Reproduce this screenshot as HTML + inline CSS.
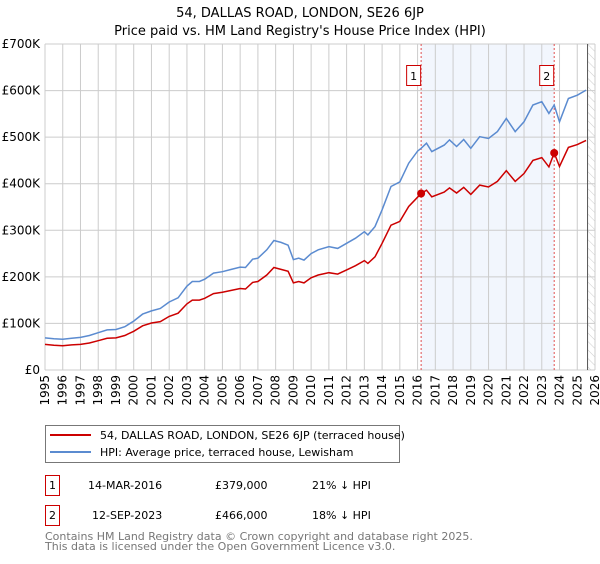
<!DOCTYPE html>
<html><head><meta charset="utf-8"><style>
body{margin:0;background:#fff;font-family:"DejaVu Sans","Liberation Sans",sans-serif;}
svg text{font-family:"DejaVu Sans","Liberation Sans",sans-serif;}
</style></head><body>
<svg id="chart" width="600" height="560" xmlns="http://www.w3.org/2000/svg">
<defs><pattern id="hatch" width="6" height="6" patternUnits="userSpaceOnUse" patternTransform="rotate(-45)"><line x1="0" y1="0" x2="0" y2="6" stroke="#ccc" stroke-width="1"/></pattern></defs>
<text x="300" y="17" text-anchor="middle" font-size="13">54, DALLAS ROAD, LONDON, SE26 6JP</text>
<text x="300" y="35" text-anchor="middle" font-size="13">Price paid vs. HM Land Registry's House Price Index (HPI)</text>
<g id="plot"></g>
<g>
<rect x="45.5" y="425.5" width="354" height="37" fill="#fff" stroke="#777"/>
<line x1="50" y1="435" x2="91" y2="435" stroke="#cc0000" stroke-width="2"/>
<text x="100" y="439" font-size="11">54, DALLAS ROAD, LONDON, SE26 6JP (terraced house)</text>
<line x1="50" y1="452" x2="91" y2="452" stroke="#5b8bd0" stroke-width="2"/>
<text x="100" y="456" font-size="11">HPI: Average price, terraced house, Lewisham</text>
</g>
<g font-size="11">
<rect x="45.5" y="475.5" width="14" height="20" fill="#fff" stroke="#cc0000"/>
<text x="52.5" y="489" text-anchor="middle">1</text>
<text x="88" y="489">14-MAR-2016</text><text x="215" y="489">£379,000</text><text x="312" y="489">21% ↓ HPI</text>
<rect x="45.5" y="505.5" width="14" height="20" fill="#fff" stroke="#cc0000"/>
<text x="52.5" y="519" text-anchor="middle">2</text>
<text x="92" y="519">12-SEP-2023</text><text x="215" y="519">£466,000</text><text x="312" y="519">18% ↓ HPI</text>
</g>
<text x="45" y="540" font-size="11" fill="#777">Contains HM Land Registry data © Crown copyright and database right 2025.</text>
<text x="45" y="550" font-size="11" fill="#777">This data is licensed under the Open Government Licence v3.0.</text>
</svg>
<script>
const years=[1995,1995.5,1996,1996.5,1997,1997.5,1998,1998.5,1999,1999.5,2000,2000.5,2001,2001.5,2002,2002.5,2003,2003.3,2003.7,2004,2004.5,2005,2005.5,2006,2006.3,2006.7,2007,2007.5,2007.9,2008.3,2008.7,2009,2009.3,2009.6,2010,2010.4,2011,2011.5,2012,2012.5,2013,2013.2,2013.6,2014,2014.5,2015,2015.5,2016,2016.2,2016.5,2016.8,2017.5,2017.8,2018.2,2018.6,2019,2019.5,2020,2020.5,2021,2021.5,2022,2022.5,2023,2023.4,2023.7,2024,2024.5,2025,2025.5];
const hpi=[69,67,66,68,70,74,80,86,87,93,105,120,127,132,146,155,180,190,190,195,208,211,216,221,220,238,240,258,278,274,268,237,240,236,250,258,265,261,272,283,297,290,308,344,394,404,444,470,476,487,469,483,494,480,495,476,501,497,512,540,512,533,569,576,551,569,533,583,590,601];
const price=[55,53,52,54,55,58,63,68,69,74,83,95,101,104,115,122,142,150,150,154,164,167,171,175,174,188,190,204,220,216,212,187,190,187,198,204,209,206,215,224,235,229,243,272,311,319,351,371,379,386,372,382,391,380,392,377,397,393,405,428,405,422,450,456,436,466,437,478,484,493];
const saleYears=[2016.2,2023.7];
const saleValues=[379,466];
const saleLabels=["1","2"];
const yTicks=[0,100,200,300,400,500,600,700];
const yTickLabels=["£0","£100K","£200K","£300K","£400K","£500K","£600K","£700K"];
const xTicks=[1995,1996,1997,1998,1999,2000,2001,2002,2003,2004,2005,2006,2007,2008,2009,2010,2011,2012,2013,2014,2015,2016,2017,2018,2019,2020,2021,2022,2023,2024,2025,2026];
const dataEnd=2025.58;
const X0=45,X1=595,Y0=370,Y1=44;
const xs=y=>X0+(y-1995)/(2026-1995)*(X1-X0);
const ys=v=>Y0-v/700*(Y0-Y1);
const NS="http://www.w3.org/2000/svg";
const g=document.getElementById('plot');
function mk(t,a){const e=document.createElementNS(NS,t);for(const k in a)e.setAttribute(k,a[k]);g.appendChild(e);return e;}
let e=mk('rect',{x:xs(saleYears[0]),y:Y1,width:xs(saleYears[1])-xs(saleYears[0]),height:Y0-Y1,fill:'#edf2fc',opacity:0.7});


e=mk('rect',{x:xs(dataEnd),y:Y1,width:X1-xs(dataEnd),height:Y0-Y1,fill:'url(#hatch)'});


xTicks.forEach(t=>{const l=mk('line',{x1:xs(t),x2:xs(t),y1:Y1,y2:Y0,stroke:'#ccc','stroke-width':1});


const tx=mk('text',{x:0,y:0,'font-size':12,'text-anchor':'end',transform:`translate(${xs(t)+4},${Y0+5}) rotate(-90)`});tx.textContent=t;

});
yTicks.forEach((t,i)=>{const l=mk('line',{x1:X0,x2:X1,y1:ys(t),y2:ys(t),stroke:'#ccc','stroke-width':1});


const tx=mk('text',{x:X0-5,y:ys(t)+4,'font-size':12,'text-anchor':'end'});tx.textContent=yTickLabels[i];

});
e=mk('line',{x1:xs(dataEnd),x2:xs(dataEnd),y1:Y1,y2:Y0,stroke:'#555','stroke-width':1});


saleYears.forEach((s,i)=>{const l=mk('line',{x1:xs(s),x2:xs(s),y1:Y1,y2:Y0,stroke:'#e05050','stroke-width':1,'stroke-dasharray':'2,2'});

});
const pts=a=>a.map((v,i)=>xs(years[i]).toFixed(1)+','+ys(v).toFixed(1)).join(' ');
e=mk('polyline',{points:pts(hpi),fill:'none',stroke:'#5b8bd0','stroke-width':1.5});


e=mk('polyline',{points:pts(price),fill:'none',stroke:'#cc0000','stroke-width':1.5});


saleYears.forEach((s,i)=>{const c=mk('circle',{cx:xs(s),cy:ys(saleValues[i]),r:4,fill:'#cc0000'});


const r=mk('rect',{x:xs(s)-14.5,y:65.5,width:14,height:20,fill:'#fff',stroke:'#cc0000'});


const t=mk('text',{x:xs(s)-7.5,y:80,'font-size':11,'text-anchor':'middle'});t.textContent=saleLabels[i];

});
</script>
</body></html>
